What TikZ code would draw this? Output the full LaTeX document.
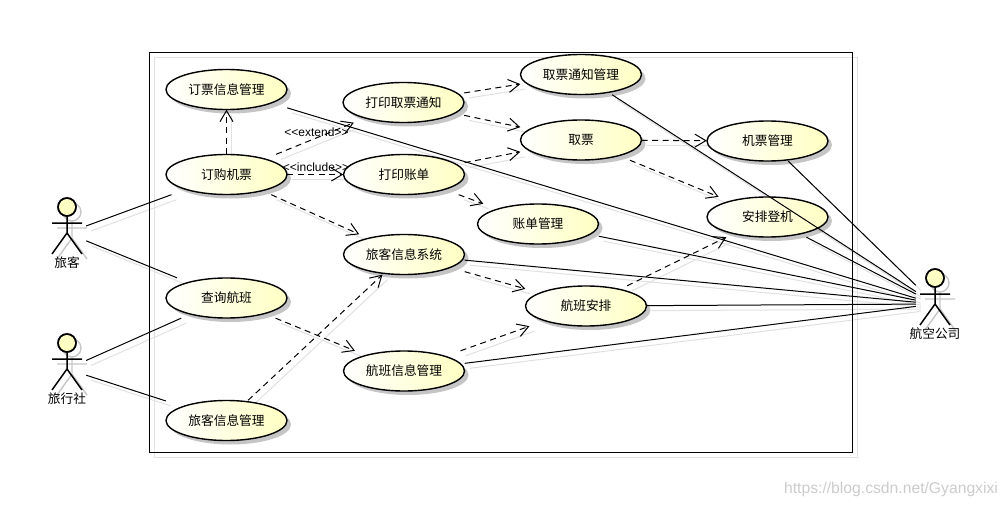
\documentclass[tikz,border=0pt]{standalone}
\usepackage{fontspec}
\usepackage{tikz}
\usetikzlibrary{arrows.meta,shapes.geometric,shadows,backgrounds}
\setmainfont{Noto Sans CJK SC}
\newfontfamily\labelfont{Liberation Sans}
\definecolor{CaseYellow}{RGB}{255,255,195}
\definecolor{LineShadow}{RGB}{225,225,225}
\tikzset{
  casebg/.style={ellipse,draw=black,line width=1.4pt,minimum width=121pt,minimum height=40pt,
                 inner sep=0pt,left color=white,right color=CaseYellow,
                 drop shadow={shadow xshift=4pt,shadow yshift=-4pt,fill=black!45,opacity=.5}},
  casebox/.style={rectangle,minimum width=121pt,minimum height=40pt,inner sep=0pt,font=\fontsize{12.7}{13}\selectfont},
  actorbox/.style={rectangle,minimum width=38pt,minimum height=72pt,inner sep=0pt},
  actorlabel/.style={inner sep=0pt,font=\fontsize{12.7}{13}\selectfont},
  stereo/.style={inner sep=0pt,font=\labelfont\fontsize{12}{14}\selectfont},
  assoc/.style={line width=1pt},
  dep/.style={line width=1pt,dash pattern=on 6pt off 4.5pt,-{Straight Barb[length=11pt,width=13pt,line width=1pt]}},
  lineshadow/.style={draw=LineShadow,line width=1pt,transform canvas={xshift=5pt,yshift=-5pt}}
}
% use case: oval on its own, box of the same size takes the connectors
\newcommand{\usecase}[4]{
  \node[casebg] (#1-oval) at (#2,#3) {};
  \node[casebox] (#1) at (#2,#3) {\raisebox{-1pt}{#4}};
}
\newcommand{\actorfigure}{
  (0,-26) circle (9pt)
  (-15,-10) -- (15,-10)
  (0,-17) -- (0,0)
  (-15,21) -- (0,0) -- (15,21)
}
\newcommand{\actor}[4]{
  \begin{scope}[shift={(#2+5,#3+5)}]
    \draw[black!22,line width=1.4pt] \actorfigure;
  \end{scope}
  \begin{scope}[shift={(#2,#3)}]
    \draw[line width=1.5pt,fill=CaseYellow] (0,-26) circle (9pt);
    \draw[line width=1.5pt] \actorfigure;
  \end{scope}
  \node[actorbox] (#1) at (#2,#3) {};
  \node[actorlabel] (#1-label) at (#2,#3+30) {#4};
}
\newcommand{\assoclinks}{lvke/dinggou,lvke/chaxun,lvxingshe/chaxun,lvxingshe/lvkexinxi,
  dingpiao/hangkong,qupiaotongzhi/hangkong,jipiao/hangkong,anpaidengji/hangkong,
  zhangdan/hangkong,lvkexitong/hangkong,hangbananpai/hangkong,hangbanxinxi/hangkong}
\newcommand{\deplinks}{dinggou/dingpiao,dinggou/dayinqupiao,dinggou/dayinzhangdan,dinggou/lvkexitong,
  dayinqupiao/qupiaotongzhi,dayinqupiao/qupiao,dayinzhangdan/qupiao,dayinzhangdan/zhangdan,
  qupiao/jipiao,qupiao/anpaidengji,lvkexitong/hangbananpai,hangbananpai/anpaidengji,
  chaxun/hangbanxinxi,lvkexinxi/lvkexitong,hangbanxinxi/hangbananpai}
\begin{document}
\begin{tikzpicture}[x=1pt,y=-1pt]
  \useasboundingbox (0,0) rectangle (1007,508);
  % system boundary
  \draw[LineShadow,line width=1pt] (154,58) rectangle (857,457);
  \draw[line width=1pt] (149,53) rectangle (852,452);
  % use cases
  \usecase{dingpiao}{226.5}{89.5}{订票信息管理}
  \usecase{dinggou}{226.5}{174.5}{订购机票}
  \usecase{chaxun}{226.5}{298}{查询航班}
  \usecase{lvkexinxi}{226.5}{420.5}{旅客信息管理}
  \usecase{dayinqupiao}{403.5}{102.5}{打印取票通知}
  \usecase{dayinzhangdan}{404}{174.5}{打印账单}
  \usecase{lvkexitong}{404}{254.5}{旅客信息系统}
  \usecase{hangbanxinxi}{404}{371}{航班信息管理}
  \usecase{zhangdan}{538}{224}{账单管理}
  \usecase{qupiaotongzhi}{581}{74.5}{取票通知管理}
  \usecase{qupiao}{581}{140}{取票}
  \usecase{hangbananpai}{586}{306}{航班安排}
  \usecase{jipiao}{767.5}{141}{机票管理}
  \usecase{anpaidengji}{767.5}{217}{安排登机}
  % actors
  \actor{lvke}{67}{233}{旅客}
  \actor{lvxingshe}{67}{369}{旅行社}
  \actor{hangkong}{935}{304}{航空公司}
  % connectors
  \foreach \from/\to in \assoclinks
    \draw[assoc] (\from) -- (\to);
  \foreach \from/\to in \deplinks
    \draw[dep] (\from) -- (\to);
  \begin{scope}[on background layer]
    \fill[white] (0,0) rectangle (1007,508);
    \foreach \from/\to in \assoclinks
      \draw[lineshadow] (\from) -- (\to);
    \foreach \from/\to in \deplinks
      \draw[lineshadow] (\from) -- (\to);
  \end{scope}
  \node[stereo] (extendlabel) at (316.5,132) {<<extend>>};
  \node[stereo] (includelabel) at (316,167.5) {<<include>>};
  \node[inner sep=0pt,text=black!20,font=\labelfont\fontsize{15.7}{18}\selectfont] (watermark) at (891,489)
    {https://blog.csdn.net/Gyangxixi};
\end{tikzpicture}
\end{document}
